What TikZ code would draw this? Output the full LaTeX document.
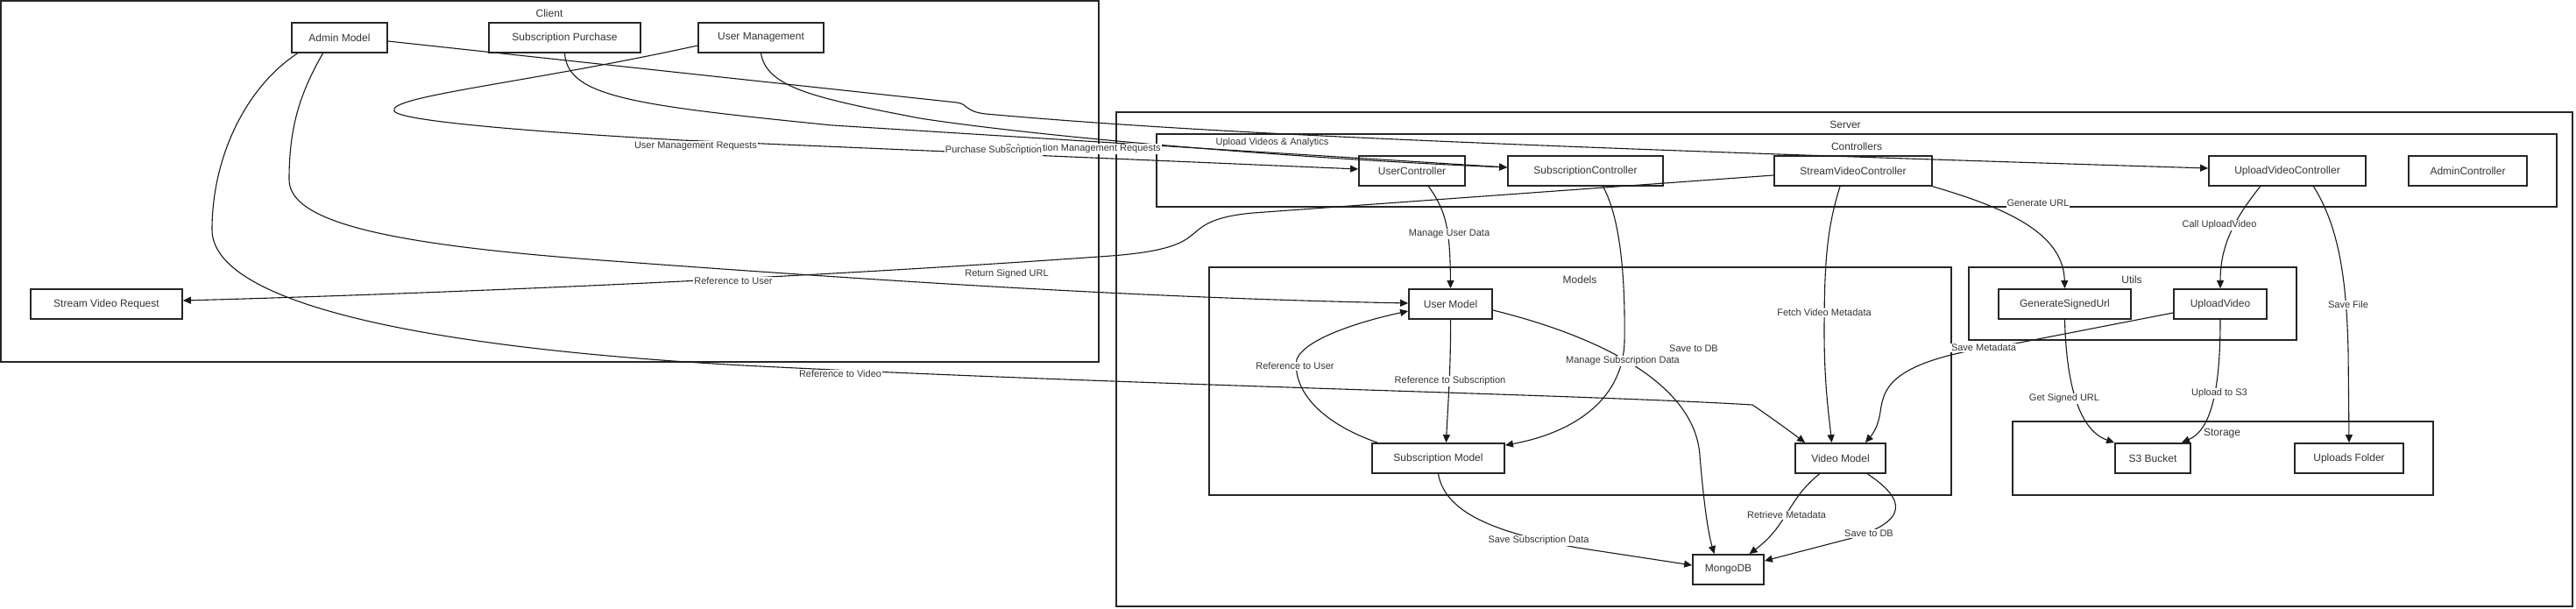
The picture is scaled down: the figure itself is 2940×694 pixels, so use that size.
\documentclass[tikz,border=0pt]{standalone}
\usepackage{fontspec}
\setmainfont{Liberation Sans}
\usetikzlibrary{arrows.meta}
\begin{document}
\begin{tikzpicture}[x=1pt,y=-1pt,
  nbox/.style={draw=black!85, line width=1.8pt, fill=white, inner sep=0pt, minimum height=34pt, font=\fontsize{12}{14}\selectfont, text=black!80},
  grp/.style={draw=black!85, line width=1.6pt},
  gtitle/.style={font=\fontsize{12}{14}\selectfont, text=black!80, inner sep=0pt},
  conn/.style={draw=black!90, line width=1.1pt, -{Triangle[length=9pt,width=8pt]}},
  elab/.style={fill=white, inner sep=1pt, font=\fontsize{11}{13}\selectfont, text=black!80}]
\useasboundingbox (0,0) rectangle (2940,694);
\fill[white] (0,0) rectangle (2940,694);
% groups
\draw[grp] (1,1) rectangle (1254,413);
\node[gtitle] (tclient) at (627,15) {Client};
\draw[grp] (1274,128) rectangle (2936,692);
\node[gtitle] (tserver) at (2106,142) {Server};
\draw[grp] (1320,153) rectangle (2918,236);
\node[gtitle] (tctrl) at (2119,167) {Controllers};
\draw[grp] (1380,305) rectangle (2227,565);
\node[gtitle] (tmodels) at (1803,319) {Models};
\draw[grp] (2247,305) rectangle (2621,388);
\node[gtitle] (tutils) at (2433,319) {Utils};
\draw[grp] (2297,481) rectangle (2777,565);
\node[gtitle] (tstorage) at (2536,495) {Storage};
% nodes
\node[nbox, minimum width=109pt] (am) at (387.5,43) {Admin Model};
\node[nbox, minimum width=173pt] (sp) at (644.5,43) {Subscription Purchase};
\node[nbox, minimum width=143pt] (um) at (868.5,43) {User Management};
\node[nbox, minimum width=173pt] (svr) at (121.5,347) {Stream Video Request};
\node[nbox, minimum width=121pt] (uc) at (1611.5,195) {UserController};
\node[nbox, minimum width=177pt] (scc) at (1809.5,195) {SubscriptionController};
\node[nbox, minimum width=180pt] (svc) at (2115,195) {StreamVideoController};
\node[nbox, minimum width=179pt] (uvc) at (2610.5,195) {UploadVideoController};
\node[nbox, minimum width=135pt] (ac) at (2816.5,195) {AdminController};
\node[nbox, minimum width=95pt] (umodel) at (1655.5,347) {User Model};
\node[nbox, minimum width=151pt] (sm) at (1641.5,523) {Subscription Model};
\node[nbox, minimum width=103pt] (vm) at (2100.5,523) {Video Model};
\node[nbox, minimum width=151pt] (gsu) at (2356.5,347) {GenerateSignedUrl};
\node[nbox, minimum width=106pt] (uv) at (2534,347) {UploadVideo};
\node[nbox, minimum width=86pt] (s3) at (2457,523) {S3 Bucket};
\node[nbox, minimum width=124pt] (uf) at (2681,523) {Uploads Folder};
\node[nbox, minimum width=81pt] (mdb) at (1972.5,650) {MongoDB};
% connectors
\draw[conn] ([yshift=-9pt]um.west) .. controls (600,95) and (440,110) .. (450,127) .. controls (458,138) and (600,150) .. (778,160) -- ([yshift=2pt]uc.west);
\draw[conn] (sp.south) .. controls (648,110) and (720,120) .. (950,143) -- ([yshift=4pt]scc.west);
\draw[conn] (um.south) .. controls (875,100) and (930,112) .. (1050,135) .. controls (1200,158) and (1500,182) .. ([yshift=4pt]scc.west);
\draw[conn] ([yshift=-4pt]am.east) -- (1092,117) .. controls (1106,119) and (1100,127) .. (1125,130) .. controls (1350,150) and (1650,165) .. ([yshift=3pt]uvc.west);
\draw[conn] ([xshift=-19pt]am.south) .. controls (340,110) and (330,150) .. (330,205) .. controls (330,255) and (450,280) .. (700,298) .. controls (1000,320) and (1300,340) .. ([yshift=1pt]umodel.west);
\draw[conn] ([xshift=-48pt]am.south) .. controls (280,100) and (242,180) .. (242,262) .. controls (242,340) and (450,395) .. (848,417) .. controls (1300,440) and (1800,450) .. (2000,462) .. controls (2012,470) and (2040,490) .. ([xshift=12pt]vm.north west);
\draw[conn] ([yshift=-5pt]svc.west) -- (1430,243) .. controls (1375,248) and (1370,262) .. (1358,270) .. controls (1340,285) and (1300,290) .. (1254,293) .. controls (900,318) and (500,335) .. ([yshift=4pt]svr.east);
\draw[conn] ([xshift=19pt]uc.south) .. controls (1650,240) and (1655,260) .. (umodel.north);
\draw[conn] ([xshift=20pt]scc.south) .. controls (1850,250) and (1855,320) .. (1854,390) .. controls (1852,460) and (1790,495) .. ([yshift=-3pt]sm.north east);
\draw[conn] ([yshift=-7pt]umodel.east) .. controls (1830,385) and (1935,440) .. (1940,520) .. controls (1945,580) and (1950,610) .. ([xshift=-16pt]mdb.north);
\draw[conn] (umodel.south) .. controls (1656,420) and (1652,470) .. ([xshift=9pt]sm.north);
\draw[conn] ([xshift=7pt]sm.north west) .. controls (1500,480) and (1475,440) .. (1480,410) .. controls (1490,385) and (1560,365) .. ([yshift=-8pt]umodel.west);
\draw[conn] ([xshift=-15pt]svc.south) .. controls (2085,260) and (2082,300) .. (2082,380) .. controls (2082,440) and (2088,480) .. ([xshift=-10pt]vm.north);
\draw[conn] (svc.south east) .. controls (2300,240) and (2355,270) .. (gsu.north);
\draw[conn] ([xshift=-31pt]uvc.south) .. controls (2550,250) and (2534,280) .. (uv.north);
\draw[conn] ([xshift=30pt]uvc.south) .. controls (2670,260) and (2678,320) .. (2680,400) -- (uf.north);
\draw[conn] ([yshift=-10pt]uv.west) -- (2300,392) .. controls (2160,410) and (2150,440) .. (2146,470) .. controls (2143,490) and (2135,498) .. ([xshift=-24pt]vm.north east);
\draw[conn] (gsu.south) .. controls (2358,430) and (2370,490) .. (s3.north west);
\draw[conn] (uv.south) .. controls (2534,440) and (2525,490) .. ([xshift=33pt]s3.north);
\draw[conn] (sm.south) .. controls (1650,590) and (1720,610) .. (1800,625) -- ([yshift=5pt]mdb.west);
\draw[conn] ([xshift=-24pt]vm.south) .. controls (2040,570) and (2040,600) .. ([xshift=24pt]mdb.north);
\draw[conn] ([xshift=31pt]vm.south) .. controls (2175,570) and (2180,595) .. (2110,615) -- ([yshift=10pt]mdb.east);
% labels
\node[elab] (l1) at (794,167) {User Management Requests};
\node[elab] (l3) at (1236,170) {Subscription Management Requests};
\node[elab] (l2) at (1134,172) {Purchase Subscription};
\node[elab] (l4) at (1452,163) {Upload Videos \& Analytics};
\node[elab] (l7) at (837,321) {Reference to User};
\node[elab] (l5) at (1149,313) {Return Signed URL};
\node[elab] (l6) at (959,427) {Reference to Video};
\node[elab] (l8) at (1654,267) {Manage User Data};
\node[elab] (l9) at (1852,412) {Manage Subscription Data};
\node[elab] (l10) at (1933,398) {Save to DB};
\node[elab] (l12) at (1478,418) {Reference to User};
\node[elab] (l11) at (1655,435) {Reference to Subscription};
\node[elab] (l13) at (2082,357) {Fetch Video Metadata};
\node[elab] (l14) at (2326,232) {Generate URL};
\node[elab] (l15) at (2533,257) {Call UploadVideo};
\node[elab] (l16) at (2680,348) {Save File};
\node[elab] (l17) at (2264,397) {Save Metadata};
\node[elab] (l18) at (2356,455) {Get Signed URL};
\node[elab] (l19) at (2533,449) {Upload to S3};
\node[elab] (l20) at (1756,617) {Save Subscription Data};
\node[elab] (l21) at (2039,588) {Retrieve Metadata};
\node[elab] (l22) at (2133,609) {Save to DB};
\end{tikzpicture}
\end{document}
